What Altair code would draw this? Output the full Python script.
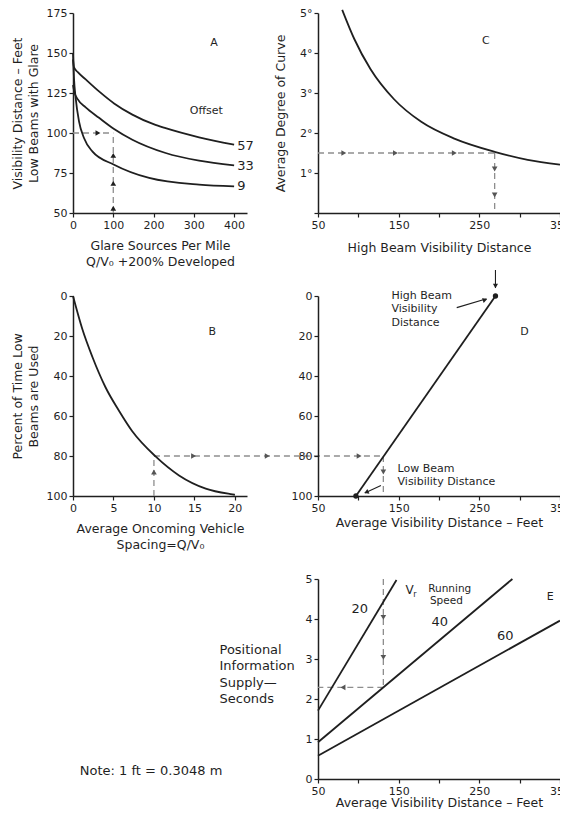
import altair as alt
import pandas as pd

FONT = "DejaVu Sans"
INK = "#1f1f1f"
DASH_C = "#8e8e8e"
HEAD_C = "#555555"

# ---------------- Panel A: visibility distance vs glare sources ----------------
A_X_TICKS = [0, 100, 200, 300, 400]
A_Y_TICKS = [50, 75, 100, 125, 150, 175]
A_57_X = [0, 2.5, 12, 31.5, 64.6, 102, 147.4, 200, 230, 313, 400]
A_57_Y = [146, 141, 138, 133.5, 126, 118.5, 111.5, 105.5, 103, 97.3, 92.7]
A_33_X = [0, 3, 12, 31.5, 64.6, 102, 147.4, 230, 313, 400]
A_33_Y = [130, 126, 121, 116, 109.5, 102.5, 95.8, 87.5, 82.7, 79.8]
A_9_X = [0, 1, 2.5, 6.6, 14.9, 27.3, 48, 102, 189, 313, 400]
A_9_Y = [150, 143, 134, 121.9, 107.3, 96.9, 88.5, 80.2, 71.9, 67.7, 66.7]
A_LABELS = ["57", "33", "9"]
A_LABEL_Y = [92, 79.5, 67]

# ---------------- Panel C: degree of curve vs high beam distance ----------------
C_X = [80, 95, 115, 144, 178, 219, 269, 310, 350]
C_Y = [5.08, 4.35, 3.6, 2.85, 2.28, 1.86, 1.53, 1.33, 1.21]

# ---------------- Panel B: percent low beams vs spacing ----------------
B_X = [0, 1.15, 2.4, 4.0, 5.7, 7.3, 10.2, 13.1, 16.4, 19.7, 20]
B_Y = [0, 16.5, 30.5, 45.5, 57.5, 67.5, 80.2, 89.7, 96.3, 99.2, 99.4]

# ---------------- Panel D: average visibility distance ----------------
D_X = [97, 270]
D_Y = [100, 0]

# ---------------- Panel E: positional information supply ----------------
E_SPEEDS = ["20", "40", "60"]
E_X0 = [50, 50, 50]
E_Y0 = [1.71, 0.92, 0.58]
E_X1 = [147.3, 291, 350]
E_Y1 = [4.975, 5.0, 3.96]

NOTE_TEXT = "Note: 1 ft = 0.3048 m"


def scale(dom, reverse=False):
    if reverse:
        return alt.Scale(domain=dom, nice=False, zero=False, reverse=True)
    return alt.Scale(domain=dom, nice=False, zero=False)


def xenc(dom, ticks, title, pad, odd_only=False):
    kw = dict(values=ticks, title=title, titlePadding=pad)
    if odd_only:
        kw["labelExpr"] = "datum.value % 100 == 50 ? datum.label : ''"
    return alt.X("x:Q", scale=scale(dom), axis=alt.Axis(**kw))


def yenc(dom, ticks, title, pad=6, reverse=False, **extra):
    kw = dict(values=ticks, title=title, titlePadding=pad)
    kw.update(extra)
    return alt.Y("y:Q", scale=scale(dom, reverse), axis=alt.Axis(**kw))


def curves(xe, ye, series, width=1.8):
    rows = []
    for name, xs, ys in series:
        for i, (a, b) in enumerate(zip(xs, ys)):
            rows.append({"x": a, "y": b, "s": name, "o": i})
    return alt.Chart(pd.DataFrame(rows)).mark_line(
        color=INK, strokeWidth=width, interpolate="monotone", clip=False
    ).encode(x=xe, y=ye, detail="s:N", order="o:Q")


def straight(xe, ye, segs, color=INK, width=1.8, dash=None):
    rows = []
    for k, (x0, y0, x1, y1) in enumerate(segs):
        rows.append({"x": x0, "y": y0, "s": k, "o": 0})
        rows.append({"x": x1, "y": y1, "s": k, "o": 1})
    kw = dict(color=color, strokeWidth=width, clip=False)
    if dash:
        kw["strokeDash"] = dash
    return alt.Chart(pd.DataFrame(rows)).mark_line(**kw).encode(
        x=xe, y=ye, detail="s:N", order="o:Q")


def dashed(xe, ye, segs):
    return straight(xe, ye, segs, color=DASH_C, width=1.3, dash=[6, 4])


def heads(xe, ye, pts, color=HEAD_C, size=32):
    df = pd.DataFrame(pts, columns=["x", "y", "a"])
    return alt.Chart(df).mark_point(
        shape="triangle-up", filled=True, size=size, color=color, opacity=1, clip=False
    ).encode(x=xe, y=ye, angle=alt.Angle("a:Q", scale=None))


def texts(xe, ye, items, size=11, align="center"):
    df = pd.DataFrame(items, columns=["x", "y", "t"])
    return alt.Chart(df).mark_text(
        align=align, baseline="middle", font=FONT, fontSize=size, color=INK
    ).encode(x=xe, y=ye, text="t:N")


# ---------- A ----------
axA = xenc([0, 432], A_X_TICKS, ["Glare Sources Per Mile", "Q/V\u2080 +200% Developed"], 9)
ayA = yenc([50, 175], A_Y_TICKS, ["Visibility Distance \u2013 Feet", "Low Beams with Glare"], 6)
A = alt.layer(
    dashed(axA, ayA, [(0, 100, 100, 100), (100, 50, 100, 100)]),
    heads(axA, ayA, [(62, 100, 90), (100, 53, 0), (100, 68.5, 0), (100, 86, 0)], color=INK),
    curves(axA, ayA, [("57", A_57_X, A_57_Y), ("33", A_33_X, A_33_Y), ("9", A_9_X, A_9_Y)]),
    texts(axA, ayA, [(408, y, t) for t, y in zip(A_LABELS, A_LABEL_Y)], size=13, align="left"),
    texts(axA, ayA, [(290, 114, "Offset")], size=11, align="left"),
    texts(axA, ayA, [(350, 156, "A")], size=11),
).properties(width=174, height=200)

# ---------- C ----------
axC = xenc([50, 350], [50, 100, 150, 200, 250, 300, 350], "High Beam Visibility Distance", 11, True)
ayC = yenc([0, 5], [0, 1, 2, 3, 4, 5], "Average Degree of Curve", 12,
           labelExpr="datum.value == 0 ? '' : datum.label + '\u00b0'")
C = alt.layer(
    dashed(axC, ayC, [(50, 1.5, 269, 1.5), (269, 1.5, 269, 0)]),
    heads(axC, ayC, [(82, 1.5, 90), (146, 1.5, 90), (219, 1.5, 90), (269, 1.1, 180), (269, 0.45, 180)]),
    curves(axC, ayC, [("c", C_X, C_Y)]),
    texts(axC, ayC, [(258, 4.29, "C")], size=11),
).properties(width=242, height=200)

# ---------- B ----------
axB = xenc([0, 21.5], [0, 5, 10, 15, 20], ["Average Oncoming Vehicle", "Spacing=Q/V\u2080"], 9)
ayB = yenc([0, 100], [0, 20, 40, 60, 80, 100], ["Percent of Time Low", "Beams are Used"], 6, reverse=True)
B = alt.layer(
    dashed(axB, ayB, [(10, 100, 10, 80), (10, 80, 38.2, 80)]),
    heads(axB, ayB, [(10, 88, 0), (14.9, 80, 90), (24, 80, 90)]),
    curves(axB, ayB, [("b", B_X, B_Y)]),
    texts(axB, ayB, [(17.2, 18, "B")], size=11),
).properties(width=174, height=200)

# ---------- D ----------
axD = xenc([50, 350], [50, 100, 150, 200, 250, 300, 350], "Average Visibility Distance \u2013 Feet", 3, True)
ayD = yenc([0, 100], [0, 20, 40, 60, 80, 100], None, 6, reverse=True)
D = alt.layer(
    dashed(axD, ayD, [(131, 80, 131, 100)]),
    heads(axD, ayD, [(101, 80, 90), (131, 88, 180)]),
    straight(axD, ayD, [(D_X[0], D_Y[0], D_X[1], D_Y[1])]),
    straight(axD, ayD, [(270, -13, 270, -4), (222, 5.8, 259, 1.4), (128, 94.8, 108, 98.5)], width=1.1),
    heads(axD, ayD, [(270, -5, 180), (257, 1.9, 73), (110, 98.1, 246)], color=INK, size=26),
    alt.Chart(pd.DataFrame({"x": D_X, "y": D_Y})).mark_circle(size=28, color=INK, opacity=1).encode(x=axD, y=ayD),
    texts(axD, ayD, [(141, 0, "High Beam"), (141, 6.7, "Visibility"), (141, 13.3, "Distance"),
                     (148.6, 86.5, "Low Beam"), (148.6, 93.2, "Visibility Distance")], size=11, align="left"),
    texts(axD, ayD, [(306, 18, "D")], size=11),
).properties(width=242, height=200)

# ---------- E ----------
axE = xenc([50, 350], [50, 100, 150, 200, 250, 300, 350], "Average Visibility Distance \u2013 Feet", 0, True)
ayE = yenc([0, 5], [0, 1, 2, 3, 4, 5], ["Positional", "Information", "Supply\u2014", "Seconds"], 6,
           titleAngle=0, titleAlign="left", titleBaseline="top", titleX=-99, titleY=64,
           titleFontSize=13, titleLineHeight=16.5)
E = alt.layer(
    dashed(axE, ayE, [(131, 5, 131, 2.29), (131, 2.29, 50, 2.29)]),
    heads(axE, ayE, [(131, 4.04, 180), (131, 3.04, 180), (81, 2.29, 270)]),
    straight(axE, ayE, [(a, b, c, d) for a, b, c, d in zip(E_X0, E_Y0, E_X1, E_Y1)]),
    texts(axE, ayE, [(101.8, 4.25, E_SPEEDS[0]), (201, 3.92, E_SPEEDS[1]), (282, 3.58, E_SPEEDS[2])], size=13),
    texts(axE, ayE, [(186.6, 4.75, "Running"), (188.7, 4.44, "Speed")], size=10.5, align="left"),
    texts(axE, ayE, [(163.5, 4.72, "V")], size=12),
    texts(axE, ayE, [(170, 4.6, "r")], size=8),
    texts(axE, ayE, [(337.8, 4.54, "E")], size=11),
).properties(width=242, height=200)

# ---------- note ----------
NOTE = alt.Chart(pd.DataFrame({"t": [NOTE_TEXT]})).mark_text(
    font=FONT, fontSize=13, color=INK, align="center", baseline="middle"
).encode(x=alt.value(78), y=alt.value(192), text="t:N").properties(width=174, height=200)

chart = alt.concat(
    A, C, B, D, NOTE, E, columns=2, bounds="flush", spacing={"row": 83, "column": 71}
).configure_view(
    stroke=None
).configure_axis(
    domainColor=INK, domainWidth=1.5, tickColor=INK, tickWidth=1.2, tickSize=4,
    grid=False, labelFont=FONT, labelFontSize=11, labelColor=INK, labelPadding=2,
    labelFlush=False, labelOverlap=False,
    titleFont=FONT, titleFontSize=12.5, titleFontWeight="normal", titleColor=INK,
    titleLineHeight=16,
).properties(
    padding={"left": 3, "top": -2, "right": -11, "bottom": 0},
)

chart.save("out.html", embed_options={"renderer": "svg", "actions": False})
